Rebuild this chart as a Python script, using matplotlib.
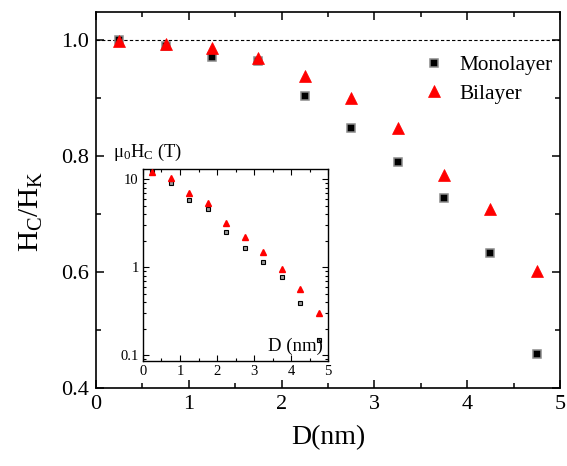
import matplotlib
matplotlib.use("Agg")
import matplotlib.pyplot as plt
from matplotlib.ticker import MultipleLocator, LogLocator, NullFormatter, FixedLocator

plt.rcParams["font.family"] = ["Liberation Serif", "DejaVu Serif"]
plt.rcParams["mathtext.fontset"] = "custom"
plt.rcParams["mathtext.rm"] = "Liberation Serif"
plt.rcParams["mathtext.it"] = "Liberation Serif"

# main panel: normalised coercivity vs particle size
d = [0.25, 0.75, 1.25, 1.75, 2.25, 2.75, 3.25, 3.75, 4.25, 4.75]
mono = [1.000, 0.989, 0.971, 0.963, 0.903, 0.848, 0.789, 0.727, 0.633, 0.459]
bi = [0.998, 0.993, 0.986, 0.969, 0.938, 0.900, 0.848, 0.767, 0.709, 0.601]

# inset: mu0*Hc in tesla (log scale)
mono_hc = [12.0, 9.07, 5.82, 4.52, 2.52, 1.66, 1.15, 0.776, 0.39, 0.149]
bi_hc = [12.0, 10.2, 6.93, 5.34, 3.21, 2.19, 1.49, 0.964, 0.562, 0.305]

fig = plt.figure(figsize=(5.67, 4.66), dpi=100)
ax = fig.add_axes([0.1693, 0.1674, 0.8183, 0.8069])

ax.axhline(1.0, color="black", lw=0.8, ls=(0, (3, 2)), zorder=1)
ax.plot(d, mono, ls="none", marker="s", ms=5.6, mfc="black", mec="#8a8a8a",
        mew=1.1, label="Monolayer", zorder=3)
ax.plot(d, bi, ls="none", marker="^", ms=8, mfc="#ff0000", mec="#ff0000",
        mew=0.5, label="Bilayer", zorder=4)

ax.set_xlim(0, 5)
ax.set_ylim(0.4, 1.048)
ax.xaxis.set_major_locator(MultipleLocator(1))
ax.xaxis.set_minor_locator(MultipleLocator(0.5))
ax.yaxis.set_major_locator(FixedLocator([0.4, 0.6, 0.8, 1.0]))
ax.yaxis.set_minor_locator(MultipleLocator(0.1))
ax.tick_params(which="both", direction="in", top=True, right=True,
               labelsize=16, width=1.1, pad=5)
ax.tick_params(which="major", length=6)
ax.tick_params(which="minor", length=3.5)
for s in ax.spines.values():
    s.set_linewidth(1.2)
ax.set_xlabel("D(nm)", fontsize=20, labelpad=8)
ax.set_ylabel(r"H$_\mathrm{C}$/H$_\mathrm{K}$", fontsize=21)
ax.yaxis.set_label_coords(-0.11, 0.47)

leg = ax.legend(loc="upper left", bbox_to_anchor=(0.66, 0.935), frameon=False,
                fontsize=15.3, handletextpad=0.6, labelspacing=0.4,
                handlelength=1.2)

# inset
ins = fig.add_axes([0.2522, 0.2253, 0.3263, 0.412])
ins.plot(d, mono_hc, ls="none", marker="s", ms=3.5, mfc="#9a9a9a", mec="black",
         mew=0.8, zorder=3)
ins.plot(d, bi_hc, ls="none", marker="^", ms=4.5, mfc="#ff0000", mec="#ff0000",
         zorder=4)
ins.set_yscale("log")
ins.set_xlim(0, 5)
ins.set_ylim(0.086, 13)
ins.xaxis.set_major_locator(MultipleLocator(1))
ins.xaxis.set_minor_locator(MultipleLocator(0.5))
ins.yaxis.set_major_locator(FixedLocator([0.1, 1, 10]))
ins.yaxis.set_minor_locator(LogLocator(base=10, subs=range(2, 10)))
ins.yaxis.set_minor_formatter(NullFormatter())
ins.set_yticklabels(["0.1", "1", "10"])
ins.tick_params(which="both", direction="in", top=True, right=True,
                labelsize=10.5, width=0.8, pad=3)
ins.tick_params(which="major", length=4)
ins.tick_params(which="minor", length=2)
for s in ins.spines.values():
    s.set_linewidth(1.0)
ins.text(-0.16, 1.03, r"$\mathrm{\mu_0H_C}$ (T)", transform=ins.transAxes,
         fontsize=13.3, ha="left", va="bottom")
ins.text(0.97, 0.03, "D (nm)", transform=ins.transAxes, fontsize=13.5,
         ha="right", va="bottom")

fig.savefig("out.png", dpi=100)
